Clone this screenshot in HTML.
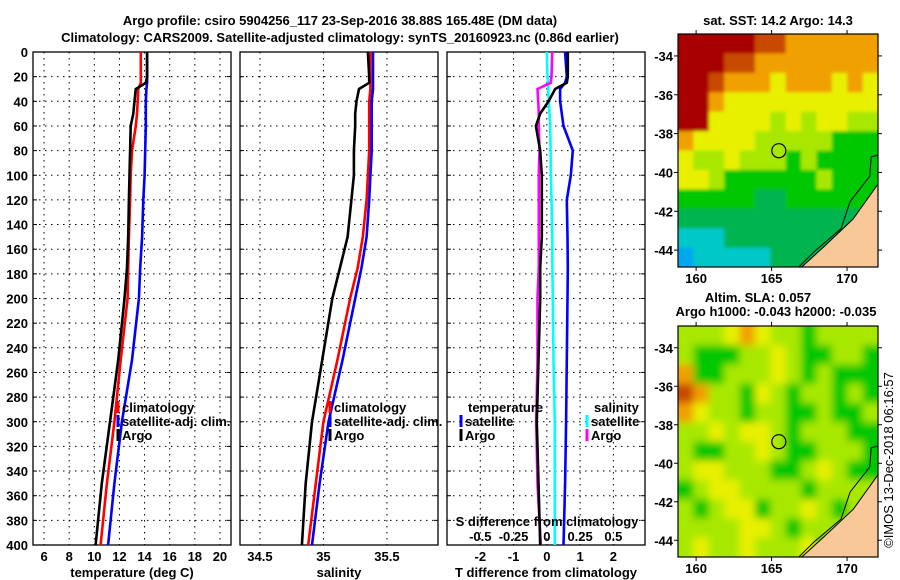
<!DOCTYPE html>
<html><head><meta charset="utf-8">
<style>
body{margin:0;background:#fff;}
svg{display:block;font-family:"Liberation Sans",sans-serif;font-weight:bold;}
text{font-size:13px;fill:#000;}
</style></head>
<body>
<svg id="chart" width="900" height="580" viewBox="0 0 900 580" xmlns="http://www.w3.org/2000/svg">
<defs>
<filter id="blurS" x="-5%" y="-5%" width="110%" height="110%"><feGaussianBlur stdDeviation="1.5"/></filter>
<filter id="blurL" x="-5%" y="-5%" width="110%" height="110%"><feGaussianBlur stdDeviation="4"/></filter>
<clipPath id="clipTop"><rect x="678" y="34" width="200" height="233"/></clipPath>
<clipPath id="clipBot"><rect x="678" y="326" width="200" height="231"/></clipPath>
</defs>
<text x="340" y="25" text-anchor="middle" font-size="14">Argo profile: csiro 5904256_117 23-Sep-2016 38.88S 165.48E (DM data)</text>
<text x="340" y="42" text-anchor="middle" font-size="14">Climatology: CARS2009. Satellite-adjusted climatology: synTS_20160923.nc (0.86d earlier)</text>
<g id="plots"></g>
<text transform="translate(893,460) rotate(-90)" text-anchor="middle" font-size="12" font-weight="normal">©IMOS 13-Dec-2018 06:16:57</text>
</svg>
<script>
// ---- data ----
const depthTicks=[0,20,40,60,80,100,120,140,160,180,200,220,240,260,280,300,320,340,360,380,400];
const tempTicks=[6,8,10,12,14,16,18,20];
const salTicks=[34.5,35,35.5];
const tdiffTicks=[-2,-1,0,1,2];
const sdiffTicks=[-0.5,-0.25,0,0.25,0.5];
const depths=[0,20,25,30,40,50,60,80,100,120,150,175,200,250,300,350,400];
const tempArgo=[14.2,14.2,14.1,13.3,13.2,13.1,12.9,12.85,12.8,12.75,12.7,12.6,12.4,11.9,11.25,10.6,10.1];
const tempClim=[13.7,13.7,13.7,13.5,13.45,13.4,13.3,13.0,12.9,12.85,12.75,12.7,12.65,12.1,11.6,11.0,10.5];
const tempSat=[14.2,14.2,14.2,14.15,14.1,14.1,14.1,14.05,14.0,13.9,13.8,13.65,13.55,13.0,12.2,11.6,11.1];
const salArgo=[35.35,35.36,35.36,35.28,35.26,35.25,35.25,35.24,35.24,35.22,35.19,35.13,35.07,34.99,34.91,34.86,34.83];
const salClim=[35.37,35.37,35.37,35.37,35.36,35.36,35.36,35.36,35.35,35.34,35.31,35.27,35.21,35.11,35.0,34.94,34.88];
const salSat=[35.39,35.39,35.39,35.39,35.38,35.38,35.38,35.38,35.37,35.36,35.34,35.3,35.25,35.15,35.04,34.97,34.91];
const tdiffSat=[0.55,0.6,0.55,0.4,0.4,0.45,0.5,0.78,0.72,0.6,0.62,0.63,0.62,0.6,0.58,0.55,0.5];
const tdiffArgo=[0.63,0.63,0.6,0.25,0.05,-0.2,-0.33,-0.2,-0.15,-0.15,-0.15,-0.2,-0.2,-0.25,-0.3,-0.25,-0.2];
const sdiffSat=[0.0,0.005,0.01,0.01,0.015,0.02,0.025,0.028,0.03,0.035,0.04,0.042,0.045,0.05,0.06,0.06,0.06];
const sdiffArgo=[0.04,0.035,0.03,-0.07,-0.065,-0.06,-0.06,-0.055,-0.06,-0.06,-0.06,-0.06,-0.07,-0.07,-0.08,-0.07,-0.045];
const lonTicks=[160,165,170];
const latTicks=[-34,-36,-38,-40,-42,-44];
const sstGrid=["DDDDDRROOOOOO","DDDRROOOOOOOO","DDROOOYOOOYOY","DDOYYYYYYYYYY","DDYYYYLYLYYLL","OYYYYLLLLLGGG","YLLYLLLGLGGGG","YYLGGGGGGLGGG","GGGGGggGGGGGG","ggggggggggggg","CCCgggggggggg","BCCCCCggggggg"];
const slaGrid=["LLLYOYLLGLLLL","LGGGLLYLGGLLG","OGGLLLYLGLGGG","ROLLGYLGLLGLG","OYLLGLLGGLGGL","LLYLYYLGLLLGG","LGGLLYLGGLLLG","LYYLLLGGLYLGG","GLYYLLLLGLLLL","LGLYYGLLYLGLG","LLLLYYLGLLLGG","LYLLYLLLYGLLG"];
const argoLon=165.48, argoLat=-38.88;
</script>
<script>
const NS="http://www.w3.org/2000/svg";
const root=document.getElementById('plots');
function mk(tag,attrs,parent){const e=document.createElementNS(NS,tag);for(const k in attrs)e.setAttribute(k,attrs[k]);(parent||root).appendChild(e);return e;}
function txt(x,y,s,anchor,parent,fs){const e=mk('text',{x:x,y:y,'text-anchor':anchor||'middle'},parent);if(fs)e.setAttribute('font-size',fs);e.textContent=s;return e;}
const PY0=52,PY1=545;
function yD(d){return PY0+(d/400)*(PY1-PY0);}
function linePath(vals,xf){return vals.map((v,i)=>(i?'L':'M')+xf(v).toFixed(1)+' '+yD(depths[i]).toFixed(1)).join(' ');}

function panel(name,x0,x1,dmin,dmax,ticks,label,showY){
  const g=mk('g',{});
  
  
  const xf=v=>x0+(v-dmin)/(dmax-dmin)*(x1-x0);
  depthTicks.forEach(d=>{if(d>0&&d<400){const l=mk('line',{x1:x0,x2:x1,y1:yD(d),y2:yD(d),stroke:'#000','stroke-dasharray':'1.5 4.5','stroke-width':1},g);}
    mk('line',{x1:x0,x2:x0+4,y1:yD(d),y2:yD(d),stroke:'#000'},g);mk('line',{x1:x1-4,x2:x1,y1:yD(d),y2:yD(d),stroke:'#000'},g);});
  ticks.forEach(t=>{const x=xf(t);const l=mk('line',{x1:x,x2:x,y1:PY0,y2:PY1,stroke:'#000','stroke-dasharray':'1.5 4.5'},g);
    if(label){const tl=txt(x,561,String(t),'middle',g);}});
  if(showY){depthTicks.forEach(d=>{const tl=txt(28,yD(d)+5,String(d),'end',g);});}
  const fr=mk('rect',{x:x0,y:PY0,width:x1-x0,height:PY1-PY0,fill:'none',stroke:'#000','stroke-width':1.3},g);
  
  return {g,xf};
}
function series(p,vals,xf,color,name){const e=mk('path',{d:linePath(vals,xf),fill:'none',stroke:color,'stroke-width':2.6,'stroke-linejoin':'miter'},p.g);}
function legItem(g,x,y,color,label,name){if(color){const b=mk('line',{x1:x,x2:x,y1:y-11,y2:y+1,stroke:color,'stroke-width':3},g);}
  const t=txt(x+4,y,label,'start',g);}

const p1=panel('temperature-panel',33,231,5.12,20.88,tempTicks,true,true);
series(p1,tempClim,p1.xf,'#f00','temp-climatology-line');
series(p1,tempSat,p1.xf,'#00f','temp-satellite-line');
series(p1,tempArgo,p1.xf,'#000','temp-argo-line');
legItem(p1.g,118,412,'#f00','climatology','legend-climatology');
legItem(p1.g,118,426,'#00f','satellite-adj. clim.','legend-satellite-adj');
legItem(p1.g,118,440,'#000','Argo','legend-argo');
{const t=txt(132,577,'temperature (deg C)','middle',p1.g);}
const p2=panel('salinity-panel',240,438,34.343,35.902,salTicks,true,false);
series(p2,salClim,p2.xf,'#f00','sal-climatology-line');
series(p2,salSat,p2.xf,'#00f','sal-satellite-line');
series(p2,salArgo,p2.xf,'#000','sal-argo-line');
legItem(p2.g,330,412,'#f00','climatology','legend-climatology-2');
legItem(p2.g,330,426,'#00f','satellite-adj. clim.','legend-satellite-adj-2');
legItem(p2.g,330,440,'#000','Argo','legend-argo-2');
{const t=txt(339,577,'salinity','middle',p2.g);}
const p3=panel('difference-panel',447,645,-3.0,2.95,tdiffTicks,true,false);
const sxf=v=>p3.xf(v*4);
series(p3,sdiffSat,sxf,'#0ff','sdiff-satellite-line');
series(p3,sdiffArgo,sxf,'#f0f','sdiff-argo-line');
series(p3,tdiffSat,p3.xf,'#00f','tdiff-satellite-line');
series(p3,tdiffArgo,p3.xf,'#000','tdiff-argo-line');
legItem(p3.g,464,412,null,'temperature','legend-temperature-header');
legItem(p3.g,461,426,'#00f','satellite','legend-t-satellite');
legItem(p3.g,461,440,'#000','Argo','legend-t-argo');
legItem(p3.g,590,412,null,'salinity','legend-salinity-header');
legItem(p3.g,587,426,'#0ff','satellite','legend-s-satellite');
legItem(p3.g,587,440,'#f0f','Argo','legend-s-argo');
{const t=txt(547,526,'S difference from climatology','middle',p3.g);}
sdiffTicks.forEach(s=>{const t=txt(sxf(s),541,String(s),'middle',p3.g);});
{const t=txt(546,577,'T difference from climatology','middle',p3.g);}

const COL={D:'#a80000',R:'#c84800',O:'#f0a000',Y:'#e8f000',L:'#a8e800',G:'#00c800',g:'#00b450',C:'#00c8c8',B:'#00a8f0'};
function map(name,y0,y1,grid,title1,title2,clip,filt){
  const x0=678,x1=878,lonMin=158.8,lonMax=172.05,latTop=-32.87,latBot=-44.87;
  const g=mk('g',{});
  const lx=v=>x0+(v-lonMin)/(lonMax-lonMin)*(x1-x0);
  const ly=v=>y0+(latTop-v)/(latTop-latBot)*(y1-y0);
  const rows=grid.length,cols=grid[0].length,cw=(x1-x0)/cols,ch=(y1-y0)/rows;
  const cl=mk('g',{'clip-path':'url(#'+clip+')'},g);
  const cg=mk('g',{filter:'url(#'+filt+')'},cl);
  grid.forEach((r,i)=>{[...r].forEach((c,j)=>{let x=x0+j*cw,y=y0+i*ch,w=cw+0.6,h=ch+0.6;
    if(j==0){x-=10;w+=10;} if(j==cols-1)w+=10; if(i==0){y-=10;h+=10;} if(i==rows-1)h+=10;
    mk('rect',{x:x,y:y,width:w,height:h,fill:COL[c]},cg);});});
  const land=mk('path',{d:`M${x1} ${ly(-40.6)} L${lx(170.4)} ${ly(-42.4)} L${lx(168.5)} ${ly(-43.8)} L${lx(167)} ${ly(-44.87)} L${x1} ${y1} Z`,fill:'#f8c898',stroke:'#000','stroke-width':1},g);
  
  mk('path',{d:`M${x1} ${ly(-39.1)} L${lx(171.6)} ${ly(-39.2)} L${lx(171.5)} ${ly(-40.2)} L${lx(170.2)} ${ly(-41.5)} L${lx(169.6)} ${ly(-42.9)} L${lx(167.8)} ${ly(-44.1)} L${lx(166.8)} ${ly(-44.87)}`,fill:'none',stroke:'#000','stroke-width':1},g);
  const m=mk('circle',{cx:lx(argoLon),cy:ly(argoLat),r:7,fill:'none',stroke:'#000','stroke-width':1.2},g);
  
  mk('rect',{x:x0,y:y0,width:x1-x0,height:y1-y0,fill:'none',stroke:'#000','stroke-width':1.2},g);
  latTicks.forEach(l=>{const y=ly(l);mk('line',{x1:x0-4,x2:x0,y1:y,y2:y,stroke:'#000'},g);mk('line',{x1:x1,x2:x1+4,y1:y,y2:y,stroke:'#000'},g);
    const t=txt(673,y+5,String(l),'end',g);});
  lonTicks.forEach(l=>{const x=lx(l);mk('line',{x1:x,x2:x,y1:y0-4,y2:y0,stroke:'#000'},g);mk('line',{x1:x,x2:x,y1:y1,y2:y1+4,stroke:'#000'},g);
    const t=txt(x,y1+16,String(l),'middle',g);});
  const t1=txt(title1[1],title1[2],title1[0],'middle',g);
  if(title2){const t2=txt(title2[1],title2[2],title2[0],'middle',g);}
}
map('sst-map',34,267,sstGrid,['sat. SST: 14.2 Argo: 14.3',778,25],null,'clipTop','blurS');
map('sla-map',326,557,slaGrid,['Altim. SLA: 0.057',758,302],['Argo h1000: -0.043 h2000: -0.035',776,316],'clipBot','blurL');
</script>
</body></html>
